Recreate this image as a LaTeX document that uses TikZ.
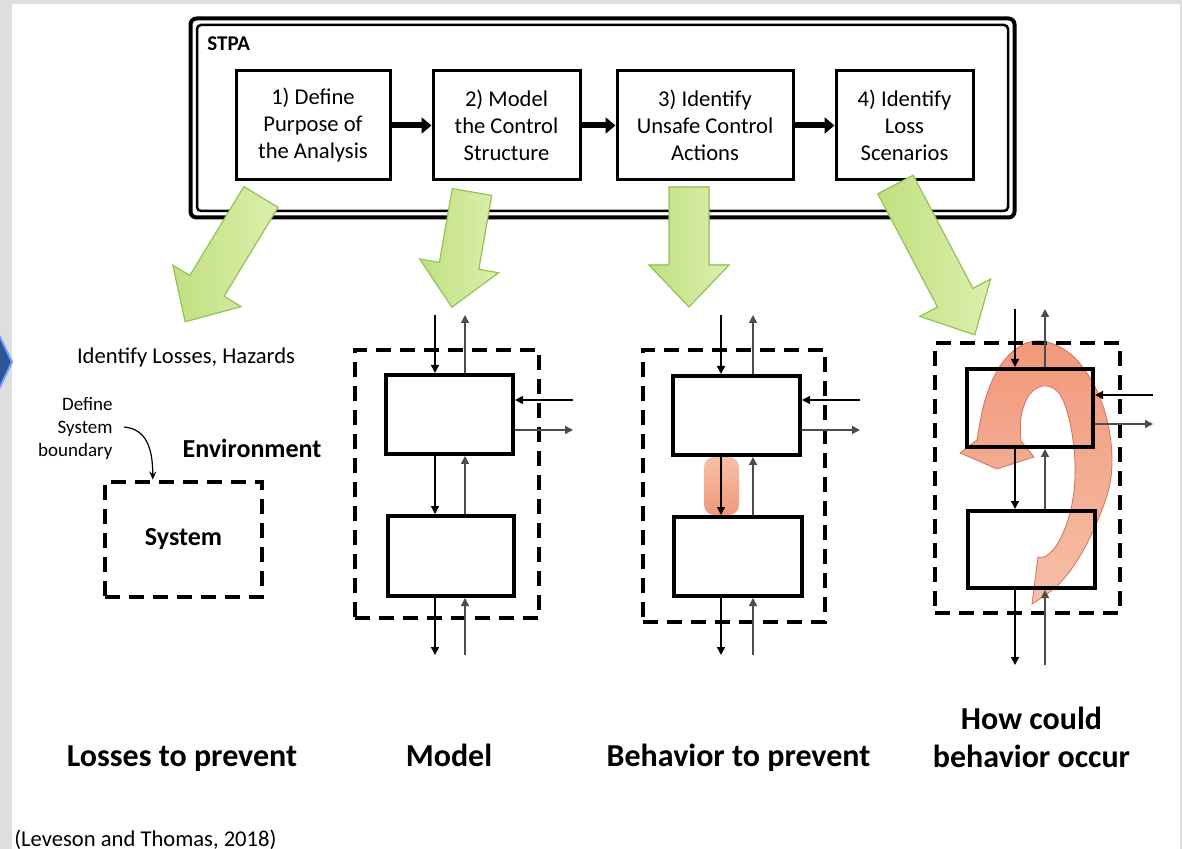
\documentclass[tikz,border=0pt]{standalone}
\usepackage{fontspec}
\setmainfont{Carlito}
\usetikzlibrary{arrows.meta,calc}
\definecolor{gA}{RGB}{192,224,128}
\definecolor{gB}{RGB}{220,239,172}
\definecolor{gE}{RGB}{146,196,88}
\definecolor{oA}{RGB}{241,152,122}
\definecolor{oB}{RGB}{246,192,168}
\definecolor{oE}{RGB}{214,112,92}
\definecolor{bgG}{RGB}{222,222,222}
\definecolor{chev}{RGB}{47,85,151}
\definecolor{chevE}{RGB}{110,160,255}
\newcommand{\greenarrow}[4]{%
 \begin{scope}[shift={(#1,#2)},rotate=#3]
  \filldraw[garrow] (0,-20) -- ({#4-42},-20) -- ({#4-42},-40) -- (#4,0) -- ({#4-42},40) -- ({#4-42},20) -- (0,20) -- cycle;
 \end{scope}}
\newcommand{\ctrlarrows}[9]{%
 \coordinate (#1ai) at (#3,#5);
 \coordinate (#1ao) at (#4,#5);
 \coordinate (#1bo) at (#3,#6);
 \coordinate (#1bi) at (#4,#6);
 \coordinate (#1ri) at (#7,#8);
 \coordinate (#1ro) at (#7,#9);
 \draw[sarr] (#1ai) -- (#1ai |- #1.north);
 \draw[sarrg] (#1ao |- #1.north) -- (#1ao);
 \draw[sarr] (#1ri) -- (#1ri -| #1.east);
 \draw[sarrg] (#1ro -| #1.east) -- (#1ro);
 \draw[sarr] (#1ai |- #1.south) -- (#1ai |- #2.north);
 \draw[sarrg] (#1ao |- #2.north) -- (#1ao |- #1.south);
 \draw[sarr] (#1ai |- #2.south) -- (#1bo);
 \draw[sarrg] (#1bi) -- (#1ao |- #2.south);
}
\begin{document}
\begin{tikzpicture}[x=0.5pt,y=-0.5pt,
  stpabox/.style={draw, line width=1.5pt, align=center, inner sep=0pt, font=\fontsize{11.3}{13.5}\selectfont},
  bigarr/.style={line width=3pt, -{Triangle[length=5pt,width=8pt]}},
  garrow/.style={left color=gA, right color=gB, draw=gE, line width=0.6pt},
  dbox/.style={draw, line width=2.4pt, dash pattern=on 7.5pt off 4.5pt, inner sep=0pt},
  ibox/.style={draw, line width=2pt, inner sep=0pt},
  sarr/.style={line width=0.7pt, -{Triangle[length=4pt,width=4pt]}},
  sarrg/.style={line width=0.7pt, draw=black!70, -{Triangle[length=4pt,width=4pt]}},
  carr/.style={line width=0.6pt, -{Stealth[length=4pt,width=3.5pt]}},
  title/.style={font=\bfseries\fontsize{16}{19}\selectfont, inner sep=0pt},
  orangefill/.style={top color=oA, bottom color=oB, draw=oE, line width=0.4pt},
  pillfill/.style={top color=oB, bottom color=oA}
]
\useasboundingbox (0,0) rectangle (1182,849);
% background
\fill[bgG] (0,0) rectangle (1182,849);
\fill[white] (12,4) rectangle (1180,849);
\filldraw[fill=chev, draw=chevE, line width=1pt] (-2,333) -- (12,362) -- (-2,391) -- cycle;

% STPA frame
\node[draw, line width=2pt, rounded corners=3pt, minimum width=412pt, minimum height=99.5pt, inner sep=0pt] (frameout) at (602.5,118) {};
\node[draw, line width=1.25pt, rounded corners=2pt, minimum width=405.5pt, minimum height=93pt, inner sep=0pt] (framein) at (602.5,118) {};
\node[anchor=west, font=\bfseries\fontsize{10.5}{12}\selectfont, inner sep=0pt] (stpa) at (207,44) {STPA};

\node[stpabox, minimum width=77pt, minimum height=54.5pt] (b1) at (313,125.5) {1) Define\\Purpose of\\the Analysis};
\node[stpabox, minimum width=73.5pt, minimum height=54.5pt] (b2) at (506.5,125.5) {2) Model\\the Control\\Structure};
\node[stpabox, minimum width=88pt, minimum height=54.5pt] (b3) at (705,125.5) {3) Identify\\Unsafe Control\\Actions};
\node[stpabox, minimum width=68.5pt, minimum height=54.5pt] (b4) at (904.5,125.5) {4) Identify\\Loss\\Scenarios};
\draw[bigarr] (b1.east) -- (b2.west);
\draw[bigarr] (b2.east) -- (b3.west);
\draw[bigarr] (b3.east) -- (b4.west);

% green arrows
\greenarrow{261}{197}{-121.3}{146}
\greenarrow{472}{192}{-99.9}{117}
\greenarrow{689}{187}{-90}{120}
\greenarrow{895.5}{184.5}{-62.2}{170}

% Losses
\node[font=\fontsize{11.3}{13.5}\selectfont, inner sep=0pt] (ilh) at (186,357) {Identify Losses, Hazards};
\node[anchor=east, align=right, font=\fontsize{9.5}{11.5}\selectfont, inner sep=0pt] (dsb) at (113,428) {Define\\System\\boundary};
\node[font=\bfseries\fontsize{13}{15}\selectfont, inner sep=0pt] (env) at (252,448) {Environment};
\node[dbox, minimum width=78.5pt, minimum height=57.5pt, font=\bfseries\fontsize{13}{15}\selectfont] (sys) at (183.5,539.5) {System};
\draw[carr] ($(dsb.east)+(11,-1)$) .. controls +(22,2) and +(0,-32) .. ($(sys.north west)!0.31!(sys.north east)$);

% Model
\node[dbox, minimum width=92pt, minimum height=134pt] (md) at (447,484) {};
\node[ibox, minimum width=63.5pt, minimum height=39.5pt] (m1) at (449.5,414.5) {};
\node[ibox, minimum width=63pt, minimum height=40pt] (m2) at (451,556) {};
\ctrlarrows{m1}{m2}{435}{465}{315}{655}{573}{400}{430}

% Behavior
\node[pillfill, rounded corners=5pt, minimum width=17.5pt, minimum height=29pt, inner sep=0pt] (pill) at (721.5,486) {};
\node[dbox, minimum width=91pt, minimum height=136pt] (ud) at (734,486) {};
\node[ibox, minimum width=63.5pt, minimum height=39.5pt] (u1) at (736.5,415.5) {};
\node[ibox, minimum width=64pt, minimum height=39.5pt] (u2) at (738,556.5) {};
\ctrlarrows{u1}{u2}{721}{753}{315}{655}{860}{400}{430}

% How could
\path[orangefill] plot[smooth, tension=0.6] coordinates {(1032,604) (1058,585) (1080,556) (1100,515) (1111,477) (1110,435) (1098,393) (1075,358) (1047,342) (1022,345) (1000,366) (985,400) (977,440)} -- (960,453) -- (997,469) -- (1034,457) -- plot[smooth, tension=0.6] coordinates {(1021,441) (1021,417) (1029,395) (1043,386) (1057,391) (1066,408) (1073,440) (1075,477) (1070,513) (1058,543) (1046,556) (1038,557)} -- cycle;
\node[dbox, minimum width=92.5pt, minimum height=135pt] (hd) at (1027.5,478) {};
\node[ibox, minimum width=63pt, minimum height=39pt] (h1) at (1030,408) {};
\node[ibox, minimum width=63.5pt, minimum height=38.5pt] (h2) at (1031.5,549.5) {};
\ctrlarrows{h1}{h2}{1015}{1045}{309}{665}{1153}{395}{424}

% titles
\node[title, anchor=base] (t1) at (182,766) {Losses to prevent};
\node[title, anchor=base] (t2) at (449,766) {Model};
\node[title, anchor=base] (t3) at (738.5,766) {Behavior to prevent};
\node[title, align=center] (t4) at (1031.5,737) {How could\\behavior occur};
\node[anchor=base west, font=\fontsize{11.3}{13.5}\selectfont, inner sep=0pt] (cite) at (14,846) {(Leveson and Thomas, 2018)};
\end{tikzpicture}
\end{document}
